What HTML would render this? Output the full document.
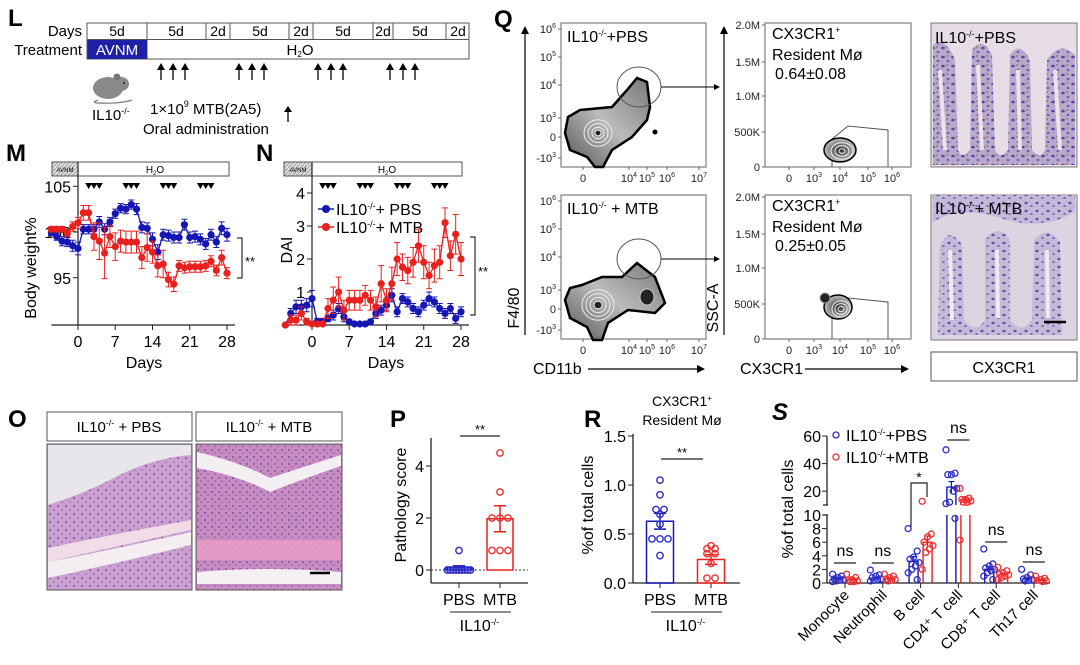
<!DOCTYPE html>
<html><head><meta charset="utf-8">
<style>
html,body{margin:0;padding:0;background:#fff;}
svg{display:block;font-family:"Liberation Sans",Arial,sans-serif;}
.pl{font-weight:bold;font-size:24px;}
</style></head>
<body>
<svg id="fig" width="1080" height="665" viewBox="0 0 1080 665" xmlns="http://www.w3.org/2000/svg">
<defs>
 <pattern id="hatch" width="4" height="4" patternUnits="userSpaceOnUse"><rect width="4" height="4" fill="#ddd"/><path d="M0,4 L4,0" stroke="#999" stroke-width="0.8"/></pattern>
 <pattern id="ihc" width="10" height="9" patternUnits="userSpaceOnUse"><rect width="10" height="9" fill="#b8a8cc"/><ellipse cx="3" cy="3" rx="1.8" ry="1.3" fill="#5548a0"/><ellipse cx="8" cy="7" rx="1.4" ry="1.1" fill="#6a5cb0"/><circle cx="7" cy="2" r="0.9" fill="#9a6a48"/></pattern>
 <pattern id="ihc2" width="11" height="8" patternUnits="userSpaceOnUse"><rect width="11" height="8" fill="#c4bad8"/><ellipse cx="3" cy="3" rx="1.6" ry="1.2" fill="#5a50a8"/><ellipse cx="8.5" cy="6" rx="1.3" ry="1.0" fill="#7466b8"/></pattern>
 <pattern id="he1" width="8" height="8" patternUnits="userSpaceOnUse"><rect width="8" height="8" fill="#c9a0cf"/><circle cx="2" cy="2" r="1.1" fill="#8a5aa8"/><circle cx="6" cy="6" r="0.9" fill="#9c6cb4"/></pattern>
 <pattern id="he2" width="7" height="7" patternUnits="userSpaceOnUse"><rect width="7" height="7" fill="#c68cc2"/><circle cx="2" cy="2" r="1.1" fill="#8e5aa6"/><circle cx="5" cy="5" r="1" fill="#a06ab2"/></pattern>
 <radialGradient id="dens" cx="50%" cy="50%" r="60%"><stop offset="0" stop-color="#222"/><stop offset="0.5" stop-color="#888"/><stop offset="1" stop-color="#ddd"/></radialGradient>
 <linearGradient id="densL" x1="0" x2="1" y1="1" y2="0"><stop offset="0" stop-color="#555"/><stop offset="0.5" stop-color="#bbb"/><stop offset="1" stop-color="#777"/></linearGradient>
</defs>

<!-- ===== Panel L ===== -->
<g>
 <text x="8" y="26" class="pl">L</text>
 <text x="82" y="36" font-size="15" text-anchor="end">Days</text>
 <text x="82" y="55" font-size="15" text-anchor="end">Treatment</text>
 <rect x="87" y="23" width="382" height="36" fill="#fff" stroke="#555" stroke-width="1"/>
 <line x1="87" y1="39.5" x2="469" y2="39.5" stroke="#555"/>
 <g stroke="#555" stroke-width="1">
  <line x1="147" y1="23" x2="147" y2="59"/><line x1="206" y1="23" x2="206" y2="39"/><line x1="230" y1="23" x2="230" y2="39"/><line x1="289" y1="23" x2="289" y2="39"/><line x1="313" y1="23" x2="313" y2="39"/><line x1="373" y1="23" x2="373" y2="39"/><line x1="393" y1="23" x2="393" y2="39"/><line x1="446" y1="23" x2="446" y2="39"/>
 </g>
 <g font-size="14" text-anchor="middle">
  <text x="117" y="36">5d</text><text x="176" y="36">5d</text><text x="218" y="36">2d</text><text x="260" y="36">5d</text><text x="301" y="36">2d</text><text x="343" y="36">5d</text><text x="383" y="36">2d</text><text x="420" y="36">5d</text><text x="458" y="36">2d</text>
 </g>
 <rect x="87.5" y="40" width="59.5" height="19" fill="#1f1fa8"/>
 <text x="117" y="55" font-size="15" fill="#fff" text-anchor="middle">AVNM</text>
 <text x="300" y="55" font-size="15" text-anchor="middle">H<tspan font-size="8" dy="2">2</tspan><tspan dy="-2">O</tspan></text>
 <g id="larrows"></g>
 <g>
  <path d="M98,100 Q90,103 100,103 Q120,104 132,100" fill="none" stroke="#777" stroke-width="1.2"/>
  <ellipse cx="108" cy="88" rx="15" ry="11" fill="#8a8a8a"/>
  <ellipse cx="121" cy="84" rx="8" ry="7" fill="#8a8a8a"/>
  <circle cx="117" cy="77" r="3.5" fill="#777"/>
  <circle cx="124" cy="83" r="1" fill="#222"/>
 </g>
 <text x="92" y="120" font-size="15">IL10<tspan font-size="9" dy="-6">-/-</tspan></text>
 <text x="150" y="114" font-size="15">1×10<tspan font-size="9" dy="-7">9</tspan><tspan dy="7"> MTB(2A5)</tspan></text>
 <text x="143" y="134" font-size="15">Oral administration</text>
 <g><line x1="288" y1="122" x2="288" y2="110" stroke="#000" stroke-width="1.3"/><path d="M284,112 L288,106 L292,112 Z"/></g>
</g>

<!-- ===== Panels M / N frame ===== -->
<g>
 <text x="6" y="161" class="pl">M</text>
 <rect x="52" y="162" width="177" height="14" fill="#fff" stroke="#555"/>
 <rect x="52.5" y="162.5" width="25.5" height="13" fill="url(#hatch)"/>
 <text x="65" y="172" font-size="6" text-anchor="middle">AVNM</text>
 <text x="155" y="173" font-size="10" text-anchor="middle">H<tspan font-size="6" dy="2">2</tspan><tspan dy="-2">O</tspan></text>
 <text x="36" y="268" font-size="16" text-anchor="middle" transform="rotate(-90 36 268)">Body weight%</text>
 <text x="144" y="368" font-size="16" text-anchor="middle">Days</text>
 <g id="mplot"></g>
 <path d="M237,238 H242 V278 H237" fill="none" stroke="#000"/>
 <text x="245" y="266" font-size="13">**</text>
</g>
<g>
 <text x="256" y="161" class="pl">N</text>
 <rect x="284" y="162" width="178" height="14" fill="#fff" stroke="#555"/>
 <rect x="284.5" y="162.5" width="27.5" height="13" fill="url(#hatch)"/>
 <text x="298" y="172" font-size="6" text-anchor="middle">AVNM</text>
 <text x="387" y="173" font-size="10" text-anchor="middle">H<tspan font-size="6" dy="2">2</tspan><tspan dy="-2">O</tspan></text>
 <text x="292" y="250" font-size="16" text-anchor="middle" transform="rotate(-90 292 250)">DAI</text>
 <text x="386" y="368" font-size="16" text-anchor="middle">Days</text>
 <g id="nplot"></g>
 <g>
  <line x1="318" y1="209" x2="334" y2="209" stroke="#1616b4" stroke-width="1.5"/><circle cx="326" cy="209" r="4" fill="#1616b4"/>
  <text x="336" y="215" font-size="16">IL10<tspan font-size="9" dy="-6">-/-</tspan><tspan dy="6">+ PBS</tspan></text>
  <line x1="318" y1="227" x2="334" y2="227" stroke="#e8201e" stroke-width="1.5"/><circle cx="326" cy="227" r="4" fill="#e8201e"/>
  <text x="336" y="233" font-size="16">IL10<tspan font-size="9" dy="-6">-/-</tspan><tspan dy="6">+ MTB</tspan></text>
 </g>
 <path d="M470,237 H475 V315 H470" fill="none" stroke="#000"/>
 <text x="478" y="276" font-size="13">**</text>
</g>

<!-- ===== Panel Q ===== -->
<g font-size="10">
 <text x="494" y="27" class="pl">Q</text>
 <line x1="525" y1="335" x2="525" y2="32" stroke="#000" stroke-width="1.2"/><path d="M521,34 L525,26 L529,34Z"/>
 <text x="519" y="308" font-size="16" text-anchor="middle" transform="rotate(-90 519 308)">F4/80</text>
 <text x="533" y="374" font-size="16">CD11b</text>
 <line x1="588" y1="369" x2="700" y2="369" stroke="#000" stroke-width="1.2"/><path d="M697,365 L705,369 L697,373Z"/>
 <g id="qcol1"></g>
 <line x1="724" y1="335" x2="724" y2="32" stroke="#000" stroke-width="1.2"/><path d="M720,34 L724,26 L728,34Z"/>
 <text x="718" y="308" font-size="16" text-anchor="middle" transform="rotate(-90 718 308)">SSC-A</text>
 <text x="740" y="374" font-size="16">CX3CR1</text>
 <line x1="805" y1="369" x2="904" y2="369" stroke="#000" stroke-width="1.2"/><path d="M901,365 L909,369 L901,373Z"/>
 <g id="qcol2"></g>
 <line x1="661" y1="87" x2="716" y2="87" stroke="#000"/><path d="M714,84 L720,87 L714,90Z"/>
 <line x1="661" y1="259" x2="716" y2="259" stroke="#000"/><path d="M714,256 L720,259 L714,262Z"/>
 <g>
  <rect x="931" y="23" width="146" height="144" fill="#e6dde6" stroke="#777"/>
  <path d="M933,165 L933,45 Q945,35 955,60 L958,150 Q962,160 970,150 L972,50 Q982,35 992,55 L995,150 Q1000,160 1008,150 L1010,55 Q1020,40 1030,60 L1032,150 Q1040,160 1045,150 L1047,60 Q1060,40 1075,55 L1075,165Z" fill="url(#ihc)"/>
  <path d="M940,70 L945,150 M978,65 L982,150 M1018,70 L1020,150 M1055,70 L1060,150" stroke="#ece2e8" stroke-width="4"/>
  <text x="935" y="43" font-size="16">IL10<tspan font-size="9" dy="-6">-/-</tspan><tspan dy="6">+PBS</tspan></text>
 </g>
 <g>
  <rect x="931" y="195" width="146" height="145" fill="#ddd4e2" stroke="#777"/>
  <path d="M933,195 L1075,195 L1075,212 Q1040,232 1000,218 Q960,205 933,222Z" fill="url(#ihc2)"/>
  <path d="M938,335 L940,245 Q950,225 962,245 L964,320 Q975,335 985,320 L985,240 Q998,222 1010,240 L1010,320 Q1022,335 1032,320 L1034,240 Q1048,224 1060,242 L1062,335Z" fill="url(#ihc2)"/>
  <path d="M950,250 L952,320 M997,250 L998,318 M1047,250 L1048,318" stroke="#efeaf0" stroke-width="4"/>
  <line x1="1044" y1="322" x2="1066" y2="322" stroke="#000" stroke-width="2.5"/>
  <text x="935" y="214" font-size="16">IL10<tspan font-size="9" dy="-6">-/-</tspan><tspan dy="6">+ MTB</tspan></text>
 </g>
 <rect x="931" y="352" width="146" height="29" fill="#fff" stroke="#555"/>
 <text x="1004" y="373" font-size="16" text-anchor="middle">CX3CR1</text>
</g>

<!-- ===== Panel O ===== -->
<g>
 <text x="8" y="427" class="pl">O</text>
 <rect x="47" y="412" width="145" height="29" fill="#fff" stroke="#555"/>
 <rect x="196" y="412" width="146" height="29" fill="#fff" stroke="#555"/>
 <text x="119" y="432" font-size="15" text-anchor="middle">IL10<tspan font-size="9" dy="-6">-/-</tspan><tspan dy="6"> + PBS</tspan></text>
 <text x="269" y="432" font-size="15" text-anchor="middle">IL10<tspan font-size="9" dy="-6">-/-</tspan><tspan dy="6"> + MTB</tspan></text>
 <g>
  <rect x="47" y="444" width="145" height="146" fill="url(#he1)" stroke="#555"/>
  <path d="M48,445 L191,445 L191,455 Q150,458 110,480 Q80,495 48,505Z" fill="#e8e6ea"/>
  <path d="M48,548 Q110,535 191,520 L191,530 Q110,548 48,562Z" fill="#f2dce8"/>
  <path d="M48,562 Q110,550 191,532 L191,545 Q110,565 48,578Z" fill="#f4eef2"/>
 </g>
 <g>
  <rect x="196" y="444" width="146" height="146" fill="url(#he2)" stroke="#555"/>
  <path d="M197,452 Q240,462 270,478 Q300,468 341,455 L341,466 Q300,480 270,492 Q240,476 197,468Z" fill="#f3eef2"/>
  <path d="M197,540 L341,540 L341,560 L197,560Z" fill="#e79cc4" opacity="0.85"/>
  <path d="M197,572 Q270,566 341,572 L341,584 L197,584Z" fill="#f4f0f3"/>
  <line x1="310" y1="573" x2="330" y2="573" stroke="#000" stroke-width="2.5"/>
 </g>
</g>

<!-- ===== Panel P ===== -->
<g>
 <text x="390" y="427" class="pl">P</text>
 <text x="406" y="505" font-size="16" text-anchor="middle" transform="rotate(-90 406 505)">Pathology score</text>
 <g id="pplot"></g>
</g>

<!-- ===== Panel R ===== -->
<g>
 <text x="584" y="427" class="pl">R</text>
 <text x="682" y="406" font-size="14" text-anchor="middle">CX3CR1<tspan font-size="8" dy="-5">+</tspan></text>
 <text x="682" y="425" font-size="14" text-anchor="middle">Resident Mø</text>
 <text x="593" y="505" font-size="16" text-anchor="middle" transform="rotate(-90 593 505)">%of total cells</text>
 <g id="rplot"></g>
</g>

<!-- ===== Panel S ===== -->
<g>
 <text x="772" y="420" class="pl" font-style="italic">S</text>
 <text x="793" y="509" font-size="16" text-anchor="middle" transform="rotate(-90 793 509)">%of total cells</text>
 <g id="splot"></g>
 <g>
  <circle cx="836" cy="435" r="3" fill="none" stroke="#2c2cc8" stroke-width="1.3"/>
  <text x="846" y="441" font-size="16">IL10<tspan font-size="9" dy="-6">-/-</tspan><tspan dy="6">+PBS</tspan></text>
  <circle cx="836" cy="457" r="3" fill="none" stroke="#ee3030" stroke-width="1.3"/>
  <text x="846" y="463" font-size="16">IL10<tspan font-size="9" dy="-6">-/-</tspan><tspan dy="6">+MTB</tspan></text>
 </g>
</g>
</svg>

<script>
// ---------- data ----------
const days = [-5,-4,-3,-2,-1,0,1,2,3,4,5,6,7,8,9,10,11,12,13,14,15,16,17,18,19,20,21,22,23,24,25,26,27,28];
const weightPBS = [99.9,99.5,99.0,98.9,98.5,98.2,100.3,100.3,100.3,101.1,100.3,101.1,102.0,102.6,102.5,103.0,102.5,100.5,100.4,99.2,97.8,99.7,99.6,99.4,99.4,100.8,99.4,99.5,99.2,98.7,99.7,98.9,100.4,99.7];
const weightPBSerr = [0.3,0.4,0.5,0.5,0.6,0.7,0.5,0.5,0.5,0.6,0.6,0.5,0.5,0.5,0.5,0.5,0.6,0.6,0.6,0.7,0.8,0.6,0.6,0.6,0.6,0.6,0.6,0.6,0.6,0.6,0.6,0.6,0.7,0.7];
const weightMTB = [100.3,100.3,100.3,99.9,100.6,101.0,102.1,102.1,99.5,99.0,97.7,99.5,98.4,99.0,98.9,98.9,98.9,97.2,98.3,97.8,96.3,96.5,94.8,94.3,96.3,96.1,96.2,96.2,96.2,96.3,96.8,95.8,97.2,95.5];
const weightMTBerr = [0.3,0.3,0.3,0.4,0.5,0.6,0.8,0.8,1.5,2.0,2.8,1.2,1.5,1.2,1.2,1.2,1.2,1.2,1.5,1.2,1.2,1.5,0.8,0.8,0.6,0.6,0.6,0.6,0.6,0.6,0.6,0.6,0.8,0.6];
const daiPBS = [0,0.35,0.55,0.55,0.6,0.8,0.1,0.1,0.2,0.3,0.5,0.25,0.1,0.03,0.03,0.03,0.1,0.35,0.45,0.6,0.9,0.4,0.8,0.7,0.5,0.4,0.6,0.8,0.7,0.5,0.35,0.5,0.2,0.4];
const daiPBSerr = [0,0.15,0.2,0.2,0.2,0.25,0.1,0.1,0.1,0.15,0.15,0.15,0.05,0.03,0.03,0.03,0.05,0.15,0.15,0.15,0.2,0.15,0.15,0.15,0.15,0.15,0.15,0.2,0.15,0.15,0.15,0.15,0.15,0.15];
const daiMTB = [0,0.15,0.15,0.35,0.1,0.03,0.03,0.03,0.5,0.75,1.0,0.45,0.75,0.75,0.75,0.9,0.75,0.55,1.25,0.75,1.25,2.0,1.75,1.65,1.9,2.4,1.9,1.5,1.8,1.9,3.1,2.1,2.75,2.0];
const daiMTBerr = [0,0.15,0.15,0.2,0.1,0.03,0.03,0.03,0.3,0.4,0.45,0.3,0.3,0.3,0.3,0.3,0.3,0.3,0.55,0.35,0.5,0.5,0.4,0.4,0.45,0.5,0.5,0.4,0.5,0.5,0.45,0.45,0.6,0.5];
const gavageDays = [2,3,4,9,10,11,16,17,18,23,24,25];
const mYTicks = [95,100,105];
const nYTicks = [1,2,3,4];
const dayTicks = [0,7,14,21,28];

const pathPBS = [0,0,0,0,0,0,0,0,0,0.75];
const pathMTB = [4.5,3,2,2,2,0.75,0.75,0.75];
const pathMeans = [0.08,1.97];
const pathSem = [0.08,0.5];
const pYTicks = [0,2,4];

const residentPBS = [1.05,0.9,0.75,0.75,0.7,0.6,0.45,0.45,0.45,0.28];
const residentMTB = [0.38,0.35,0.35,0.3,0.3,0.2,0.05,0.05];
const residentMeans = [0.63,0.24];
const residentSem = [0.08,0.05];
const rYTicks = [0,0.5,1.0,1.5];
const rYTickLabels = ["0.0","0.5","1.0","1.5"];

const cellTypes = ["Monocyte","Neutrophil","B cell","CD4⁺ T cell","CD8⁺ T cell","Th17 cell"];
const sMeanPBS = [0.7,0.7,3.2,23,2.0,0.6];
const sMeanMTB = [0.5,0.6,6.0,14,1.2,0.4];
const sSemPBS = [0.15,0.15,0.7,4,0.4,0.15];
const sSemMTB = [0.15,0.15,0.9,1.5,0.2,0.1];
const sPtsPBS = [[1.3,1.0,0.8,0.6,0.5,0.4,0.3,0.2],[1.9,1.2,1.0,0.8,0.6,0.5,0.4,0.3],[8,4.7,3.8,3.5,3.0,2.5,2.0,1.5,0.5],[50,33,32,32,22,20,12,11,9.5],[5,2.8,2.5,2.2,2.0,1.8,1.5,1.0,0.5],[2,1.2,0.8,0.6,0.5,0.4,0.3]];
const sPtsMTB = [[1.3,0.8,0.5,0.4,0.3,0.2,0.2],[1.3,1.0,0.8,0.6,0.5,0.4,0.3],[12.7,7.2,6.8,6.0,5.5,5.0,4.5,2.0],[22,15,14,14,13,12,12,6.3],[2.3,1.8,1.5,1.3,1.2,1.0,0.8,0.5],[1.0,0.7,0.5,0.4,0.3,0.2]];
const sYTicksLow = [0,2,4,6,8,10];
const sYTicksHigh = [20,40,60];
const sSig = ["ns","ns","*","ns","ns","ns"];

// ---------- helpers ----------
const NS = "http://www.w3.org/2000/svg";
function mk(tag, attrs, parent){
  const e = document.createElementNS(NS, tag);
  for (const k in attrs) e.setAttribute(k, attrs[k]);
  parent.appendChild(e);
  return e;
}
const BLUE = "#1616b4", RED = "#e8201e", OB = "#2c2cc8", OR = "#ee3030";

// ---------- L arrows ----------
(function(){
  const g = document.getElementById("larrows");
  const ax = [161,173,185,239,252,264,318,331,343,390,403,415];
  gavageDays.forEach((d, i) => {
    const xx = ax[i];
    const a = mk("line", {x1:xx, y1:80, x2:xx, y2:68, stroke:"#000", "stroke-width":1.3}, g);
    
    
    const h = mk("path", {d:`M${xx-4},70 L${xx},63 L${xx+4},70Z`}, g);
    
    
  });
})();

// ---------- M / N ----------
function timeChart(gid, ox, yMap, yTicks, s1, e1, s2, e2, arrowsY){
  const g = document.getElementById(gid);
  const xs = d => ox + d * (149 / 28);
  const axisY = 325;
  const ax = mk("line", {x1:xs(-5), y1:axisY, x2:xs(29.5), y2:axisY, stroke:"#222", "stroke-width":1.2}, g);
  
  
  const ay = mk("line", {x1:ox, y1:162, x2:ox, y2:axisY, stroke:"#222", "stroke-width":1.2}, g);
  
  
  dayTicks.forEach(d => {
    const t = mk("line", {x1:xs(d), y1:axisY, x2:xs(d), y2:axisY+5, stroke:"#222"}, g);
    
    
    const l = mk("text", {x:xs(d), y:axisY+22, "font-size":16, "text-anchor":"middle"}, g);
    l.textContent = d;
    
    
  });
  yTicks.forEach(v => {
    const t = mk("line", {x1:ox-5, y1:yMap(v), x2:ox, y2:yMap(v), stroke:"#222"}, g);
    
    
    const l = mk("text", {x:ox-7, y:yMap(v)+6, "font-size":16, "text-anchor":"end"}, g);
    l.textContent = v;
    
    
  });
  gavageDays.forEach(d => {
    const x = xs(d);
    const tri = mk("path", {d:`M${x-3.5},${arrowsY} L${x+3.5},${arrowsY} L${x},${arrowsY+6}Z`, fill:"#000"}, g);
    
    
  });
  [[s1,e1,BLUE,'pbs'],[s2,e2,RED,'mtb']].forEach(([vals, errs, col, nm]) => {
    const sg = mk("g", {}, g);
    
    
    const pts = vals.map((v,i) => xs(days[i]).toFixed(1) + "," + yMap(v).toFixed(1)).join(" ");
    const pl = mk("polyline", {points:pts, fill:"none", stroke:col, "stroke-width":1.3}, sg);
    
    
    vals.forEach((v,i) => {
      const x = xs(days[i]);
      if (errs[i] > 0.02) {
        const y1 = yMap(v + errs[i]), y2 = yMap(v - errs[i]);
        const eb = mk("path", {d:`M${x},${y1} V${y2} M${x-3},${y1} H${x+3} M${x-3},${y2} H${x+3}`, stroke:col, "stroke-width":1, fill:"none"}, sg);
        
        
      }
      const c = mk("circle", {cx:x, cy:yMap(v), r:3.6, fill:col}, sg);
      
      
    });
  });
}
timeChart("mplot", 78, v => 232 - (v - 100) * 9.15, mYTicks, weightPBS, weightPBSerr, weightMTB, weightMTBerr, 183);
timeChart("nplot", 312, v => 325 - v * 33, nYTicks, daiPBS, daiPBSerr, daiMTB, daiMTBerr, 183);

// ---------- Q flow plots ----------
function flowAxes(g, x0, y0, w, h, yl, yt, xl, xt){
  const b = mk("rect", {x:x0, y:y0, width:w, height:h, fill:"#fff", stroke:"#666"}, g);
  
  
  yl.forEach((l,i) => {
    const t = mk("text", {x:x0-5, y:yt[i]+4, "font-size":11, "text-anchor":"end", fill:"#222"}, g);
    t.innerHTML = l;
    
    
    mk("line", {x1:x0-3, y1:yt[i], x2:x0, y2:yt[i], stroke:"#666"}, g);
  });
  xl.forEach((l,i) => {
    const t = mk("text", {x:xt[i], y:y0+h+15, "font-size":11, "text-anchor":"middle", fill:"#222"}, g);
    t.innerHTML = l;
    
    
    mk("line", {x1:xt[i], y1:y0+h, x2:xt[i], y2:y0+h+3, stroke:"#666"}, g);
  });
}
const sup = s => `10<tspan font-size="7" dy="-5">${s}</tspan>`;
(function(){
  const g = document.getElementById("qcol1");
  [[23,'PBS'],[195,'MTB']].forEach(([y0,nm]) => {
    const o = y0 - 23;
    flowAxes(g, 561, y0, 145, 144,
      [sup(6), sup(5), sup(4), sup(3), "0", "-"+sup(3)],
      [29+o, 57+o, 85+o, 118+o, 137+o, 158+o],
      ["0", sup(4), sup(5), sup(6), sup(7)], [583,629,647,667,699]);
    const lab = mk("text", {x:567, y:y0+19, "font-size":16}, g);
    lab.innerHTML = nm === 'PBS' ? 'IL10<tspan font-size="9" dy="-6">-/-</tspan><tspan dy="6">+PBS</tspan>' : 'IL10<tspan font-size="9" dy="-6">-/-</tspan><tspan dy="6"> + MTB</tspan>';
    
    
  });
  const top = mk("path", {d:"M580,110 L612,107 L627,90 L637,78 L647,82 L650,107 L647,120 L632,137 L612,150 L603,167 L595,167 L587,157 L570,150 L565,133 L568,117Z", fill:"url(#densL)", stroke:"#000", "stroke-width":2.5}, g);
  
  
  [14,10,6,3].forEach((r,i) => mk("ellipse", {cx:598, cy:133, rx:r, ry:r*0.95, fill:i==3?"#222":"none", stroke:"#eee", "stroke-width":1}, g));
  mk("circle", {cx:655, cy:132, r:2.5, fill:"#000"}, g);
  const bot = mk("path", {d:"M582,285 L602,277 L622,277 L637,263 L655,277 L665,303 L655,313 L628,310 L608,323 L602,340 L593,340 L587,327 L570,318 L565,300 L570,288Z", fill:"url(#densL)", stroke:"#000", "stroke-width":2.5}, g);
  
  
  [16,12,8,4].forEach((r,i) => mk("ellipse", {cx:598, cy:305, rx:r, ry:r*0.95, fill:i==3?"#222":"none", stroke:"#eee", "stroke-width":1}, g));
  mk("ellipse", {cx:647, cy:297, rx:7, ry:8, fill:"#222", stroke:"#ccc"}, g);
  [87,259].forEach(cy => {
    const c = mk("ellipse", {cx:639, cy:cy, rx:22, ry:20, fill:"none", stroke:"#555", "stroke-width":1}, g);
    
    
  });
})();
(function(){
  const g = document.getElementById("qcol2");
  [[23,'0.64±0.08'],[195,'0.25±0.05']].forEach(([y0,val]) => {
    const o = y0 - 23;
    flowAxes(g, 765, y0, 146, 144, ["2.0M","1.5M","1.0M","500K","0"], [25+o,62+o,96+o,132+o,167+o],
      ["0", sup(3), sup(4), sup(5), sup(6)], [789,814,840,868,892]);
    const t1 = mk("text", {x:772, y:y0+16, "font-size":16}, g);
    t1.innerHTML = 'CX3CR1<tspan font-size="9" dy="-6">+</tspan>';
    
    
    const t2 = mk("text", {x:772, y:y0+37, "font-size":16}, g);
    t2.textContent = "Resident Mø";
    
    
    const t3 = mk("text", {x:775, y:y0+56, "font-size":16}, g);
    t3.textContent = val;
    
    
    const gate = mk("path", {d:`M832,${y0+144} L832,${y0+116} L848,${y0+103} L888,${y0+107} L888,${y0+144}`, fill:"none", stroke:"#555"}, g);
    
    
  });
  const b1 = mk("ellipse", {cx:840, cy:150, rx:16, ry:12, fill:"url(#dens)", stroke:"#000", "stroke-width":1.5}, g);
  
  
  [11,7,3].forEach(r => mk("ellipse", {cx:842, cy:151, rx:r, ry:r*0.75, fill:"none", stroke:"#eee"}, g));
  const b2 = mk("ellipse", {cx:838, cy:307, rx:14, ry:12, fill:"url(#dens)", stroke:"#000", "stroke-width":1.5}, g);
  
  
  [9,6,3].forEach(r => mk("ellipse", {cx:841, cy:309, rx:r, ry:r*0.9, fill:"none", stroke:"#eee"}, g));
  mk("circle", {cx:825, cy:298, r:5, fill:"#222", stroke:"#999"}, g);
})();

// ---------- dot/bar helper ----------
function dotBar(g, cx, w, mean, sem, pts, yMap, col, ocol, nm){
  const y0 = yMap(0);
  const bar = mk("rect", {x:cx-w/2, y:yMap(mean), width:w, height:y0-yMap(mean), fill:"none", stroke:col, "stroke-width":1.5}, g);
  
  
  const e = mk("path", {d:`M${cx},${yMap(mean+sem)} V${yMap(mean-sem)} M${cx-6},${yMap(mean+sem)} H${cx+6} M${cx-6},${yMap(mean-sem)} H${cx+6}`, stroke:col, "stroke-width":1.5, fill:"none"}, g);
  
  
  const counts = {};
  pts.forEach(v => counts[v] = (counts[v]||0)+1);
  const seen = {};
  pts.forEach(v => {
    seen[v] = (seen[v]||0);
    const k = seen[v]++;
    const step = Math.min(8, 26 / counts[v]);
    const off = (k - (counts[v]-1)/2) * step;
    const c = mk("circle", {cx:cx+off, cy:yMap(v), r:3.2, fill:"none", stroke:ocol, "stroke-width":1.4}, g);
    
    
  });
}
function yAxis(g, x, yTop, yBot, ticks, labels, yMap, fs){
  const a = mk("line", {x1:x, y1:yTop, x2:x, y2:yBot, stroke:"#222", "stroke-width":1.3}, g);
  
  
  ticks.forEach((v,i) => {
    mk("line", {x1:x-5, y1:yMap(v), x2:x, y2:yMap(v), stroke:"#222"}, g);
    const t = mk("text", {x:x-7, y:yMap(v)+6, "font-size":fs, "text-anchor":"end"}, g);
    t.textContent = labels[i];
    
    
  });
}
function groupLabels(g, xl, x2, yb, ticks){
  const a = mk("line", {x1:xl, y1:yb, x2:x2, y2:yb, stroke:"#222", "stroke-width":1.3}, g);
  
  
  [["PBS",ticks[0]],["MTB",ticks[1]]].forEach(([s,x]) => {
    mk("line", {x1:x, y1:yb, x2:x, y2:yb+5, stroke:"#222"}, g);
    const t = mk("text", {x:x, y:yb+22, "font-size":16, "text-anchor":"middle"}, g);
    t.textContent = s;
    
    
  });
  mk("line", {x1:ticks[0]-9, y1:yb+29, x2:ticks[1]+11, y2:yb+29, stroke:"#222"}, g);
  const t = mk("text", {x:(ticks[0]+ticks[1])/2, y:yb+48, "font-size":16, "text-anchor":"middle"}, g);
  t.innerHTML = 'IL10<tspan font-size="9" dy="-6">-/-</tspan>';
  
  
}

// ---------- P ----------
(function(){
  const g = document.getElementById("pplot");
  const py = v => 570 - v * 26;
  yAxis(g, 431, 438, 583, pYTicks, pYTicks.map(String), py, 16);
  groupLabels(g, 431, 528, 583, [459,500]);
  const dl = mk("line", {x1:431, y1:py(0), x2:528, y2:py(0), stroke:"#333", "stroke-dasharray":"2,2"}, g);
  
  
  dotBar(g, 459, 26, pathMeans[0], pathSem[0], pathPBS, py, BLUE, OB, 'pbs');
  dotBar(g, 500, 26, pathMeans[1], pathSem[1], pathMTB, py, RED, OR, 'mtb');
  mk("line", {x1:460, y1:436, x2:500, y2:436, stroke:"#222", "stroke-width":1.3}, g);
  const s = mk("text", {x:480, y:434, "font-size":13, "text-anchor":"middle"}, g);
  s.textContent = "**";
  
  
})();

// ---------- R ----------
(function(){
  const g = document.getElementById("rplot");
  const ry = v => 583 - v * 98;
  yAxis(g, 633, 434, 583, rYTicks, rYTickLabels, ry, 16);
  groupLabels(g, 633, 740, 583, [660,711]);
  dotBar(g, 660, 27, residentMeans[0], residentSem[0], residentPBS, ry, BLUE, OB, 'pbs');
  dotBar(g, 711, 27, residentMeans[1], residentSem[1], residentMTB, ry, RED, OR, 'mtb');
  mk("line", {x1:661, y1:459, x2:703, y2:459, stroke:"#222", "stroke-width":1.3}, g);
  const s = mk("text", {x:682, y:457, "font-size":13, "text-anchor":"middle"}, g);
  s.textContent = "**";
  
  
})();

// ---------- S ----------
(function(){
  const g = document.getElementById("splot");
  const sy = v => v <= 10 ? 583 - v * 6.8 : 505 - (v - 10) * (69 / 50);
  const ax = 827;
  const a1 = mk("line", {x1:ax, y1:515, x2:ax, y2:583, stroke:"#222", "stroke-width":1.3}, g);
  
  
  const a2 = mk("line", {x1:ax, y1:436, x2:ax, y2:505, stroke:"#222", "stroke-width":1.3}, g);
  
  
  mk("line", {x1:ax-4, y1:505, x2:ax+1, y2:505, stroke:"#222", "stroke-width":1.3}, g);
  mk("line", {x1:ax-4, y1:515, x2:ax+1, y2:515, stroke:"#222", "stroke-width":1.3}, g);
  sYTicksLow.concat(sYTicksHigh).forEach(v => {
    mk("line", {x1:ax-5, y1:sy(v), x2:ax, y2:sy(v), stroke:"#222"}, g);
    const t = mk("text", {x:ax-6, y:sy(v)+6, "font-size":16, "text-anchor":"end"}, g);
    t.textContent = v;
    
    
  });
  const xa = mk("line", {x1:ax, y1:583, x2:1050, y2:583, stroke:"#222", "stroke-width":1.3}, g);
  
  
  const gx = i => 845 + i * 37.8;
  cellTypes.forEach((name, i) => {
    const c = gx(i);
    mk("line", {x1:c, y1:583, x2:c, y2:588, stroke:"#222"}, g);
    const lbl = mk("text", {x:c+5, y:596, "font-size":15, "text-anchor":"end", transform:`rotate(-45 ${c+5} 596)`}, g);
    lbl.textContent = name;
    
    
    [[sMeanPBS[i], sSemPBS[i], sPtsPBS[i], c-7, BLUE, OB, 'pbs'], [sMeanMTB[i], sSemMTB[i], sPtsMTB[i], c+7, RED, OR, 'mtb']].forEach(([m, se, pts, bx, col, oc, nm]) => {
      const w = 9;
      let d;
      if (m <= 10) d = `M${bx-w/2},583 V${sy(m)} H${bx+w/2} V583`;
      else d = `M${bx-w/2},583 V515 M${bx+w/2},583 V515 M${bx-w/2},505 V${sy(m)} H${bx+w/2} V505`;
      const b = mk("path", {d:d, fill:"none", stroke:col, "stroke-width":1.4}, g);
      
      
      const eb = mk("path", {d:`M${bx},${sy(m+se)} V${sy(Math.max(m-se,0))} M${bx-3},${sy(m+se)} H${bx+3}`, fill:"none", stroke:col, "stroke-width":1.2}, g);
      
      
      pts.forEach((v, k) => {
        const off = ((k * 5) % 7 - 3) * 1.8;
        const p = mk("circle", {cx:bx+off, cy:sy(v), r:3, fill:"none", stroke:oc, "stroke-width":1.3}, g);
        
        
      });
    });
  });
  const sigY = [556,556,0,433,535,555];
  sSig.forEach((s, i) => {
    if (s !== "ns") return;
    const c = gx(i);
    mk("line", {x1:c-11, y1:sigY[i]+7, x2:c+11, y2:sigY[i]+7, stroke:"#222", "stroke-width":1.2}, g);
    const t = mk("text", {x:c, y:sigY[i], "font-size":16, "text-anchor":"middle"}, g);
    t.textContent = s;
    
    
  });
  const br = mk("path", {d:"M911,527 V483 H927 V497", fill:"none", stroke:"#222", "stroke-width":1.2}, g);
  
  
  const st = mk("text", {x:919, y:482, "font-size":14, "text-anchor":"middle"}, g);
  st.textContent = "*";
  
  
})();
</script>
</body></html>
